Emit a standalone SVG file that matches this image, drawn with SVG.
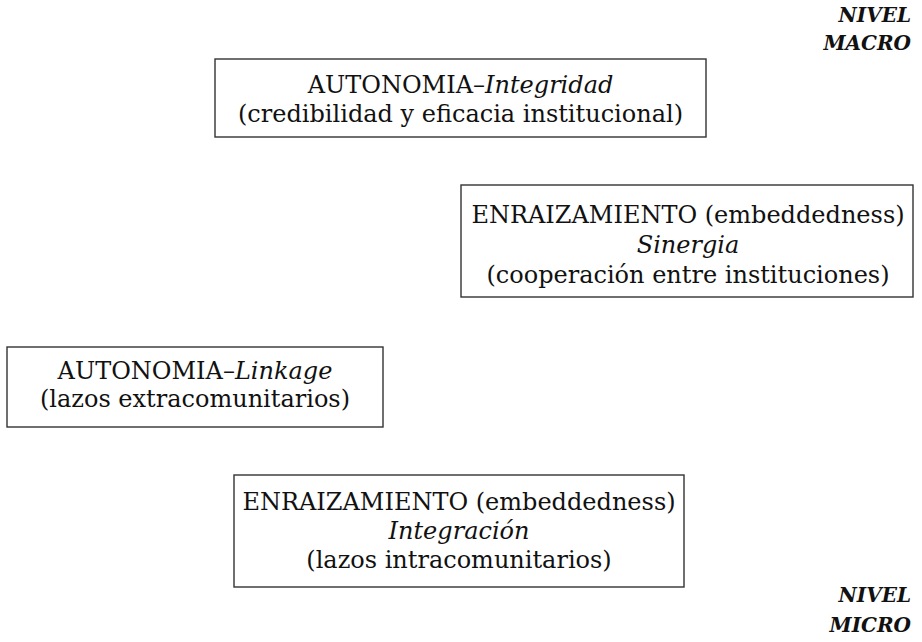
<svg xmlns="http://www.w3.org/2000/svg" width="922" height="642" viewBox="0 0 922 642">
<style>
.box{fill:#fff;stroke:#333;stroke-width:1.4}
text{font-family:"DejaVu Serif","Liberation Serif",serif;font-size:24px;fill:#111;text-anchor:middle}
.lvl{font-style:italic;font-weight:bold;font-size:20px;text-anchor:end}
.it{font-style:italic}
</style>
<rect width="922" height="642" fill="#fff"/>
<g id="nivel-macro"><text class="lvl" x="911" y="22">NIVEL</text><text class="lvl" x="911" y="50">MACRO</text></g>
<g id="autonomia-integridad">
<rect class="box" x="215" y="59" width="491" height="78"/>
<text x="460.5" y="93">AUTONOMIA–<tspan class="it">Integridad</tspan></text>
<text x="460.5" y="122">(credibilidad y eficacia institucional)</text>
</g>
<g id="enraizamiento-sinergia">
<rect class="box" x="461" y="185" width="452" height="112"/>
<text x="688" y="223">ENRAIZAMIENTO (embeddedness)</text>
<text x="688" y="253" class="it">Sinergia</text>
<text x="688" y="283">(cooperación entre instituciones)</text>
</g>
<g id="autonomia-linkage">
<rect class="box" x="7" y="347" width="376" height="80"/>
<text x="195" y="379">AUTONOMIA–<tspan class="it">Linkage</tspan></text>
<text x="195" y="407">(lazos extracomunitarios)</text>
</g>
<g id="enraizamiento-integracion">
<rect class="box" x="234" y="475" width="450" height="112"/>
<text x="459" y="510">ENRAIZAMIENTO (embeddedness)</text>
<text x="459" y="539" class="it">Integración</text>
<text x="459" y="568">(lazos intracomunitarios)</text>
</g>
<g id="nivel-micro"><text class="lvl" x="911" y="602">NIVEL</text><text class="lvl" x="911" y="632">MICRO</text></g>
<g id="connectors"></g>
</svg>
